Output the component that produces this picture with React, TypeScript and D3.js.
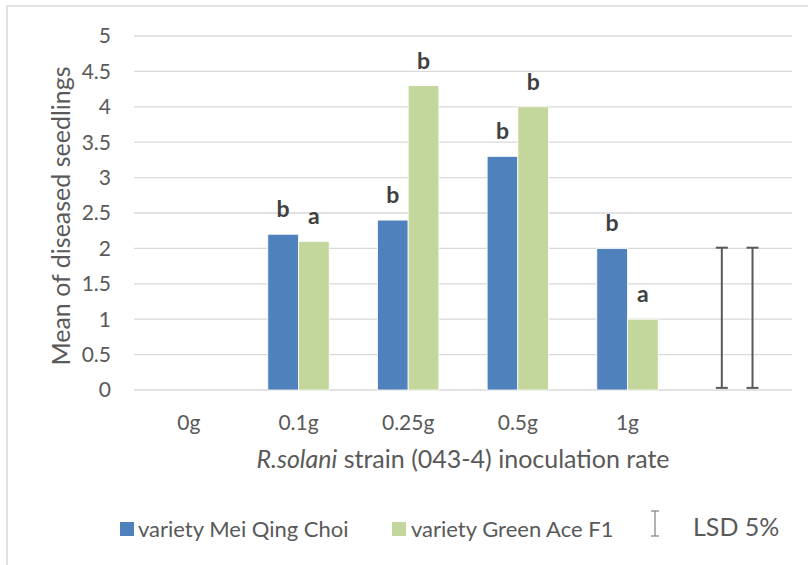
import React from "react";
import * as d3 from "d3";

const categories = ["0g", "0.1g", "0.25g", "0.5g", "1g", ""];
const seriesNames = ["variety Mei Qing Choi", "variety Green Ace F1"];
const meiQingChoi = [0, 2.2, 2.4, 3.3, 2.0, null];
const greenAce = [0, 2.1, 4.3, 4.0, 1.0, null];
const meiLetters = ["", "b", "b", "b", "b", ""];
const greenLetters = ["", "a", "b", "b", "a", ""];
const lsdLow = [0.03, 0.03];
const lsdHigh = [2.01, 2.01];
const yTicks = [0, 0.5, 1, 1.5, 2, 2.5, 3, 3.5, 4, 4.5, 5];
const colors = ["#4f81bd", "#c3d69b"];

const W = 808;
const H = 565;
const FONT = "Lato, 'Open Sans', sans-serif";

export default function App() {
  const left = 134, right = 792, top = 36, bottom = 390;
  const x = d3.scaleBand<string>().domain(categories.map((c, i) => String(i))).range([left, right]).paddingInner(0).paddingOuter(0);
  const y = d3.scaleLinear().domain([0, 5]).range([bottom, top]);
  const bw = 30.7;
  const series = [meiQingChoi, greenAce];
  const letters = [meiLetters, greenLetters];
  const barX = (i: number, s: number) => (x(String(i)) as number) + x.bandwidth() / 2 - bw + s * bw;

  return (
    <svg width={W} height={H} style={{ position: "absolute", left: 0, top: 0 }} fontFamily={FONT}>
      <rect x={0} y={0} width={W} height={H} fill="#fff" />
      <rect x={7} y={6} width={W + 10} height={H + 10} fill="none" stroke="#d9d9d9" strokeWidth={1.5} />
      {yTicks.map((t) => (
        <g key={t}>
          <line x1={left} x2={right} y1={y(t)} y2={y(t)} stroke="#d9d9d9" strokeWidth={1.3} />
          <text x={111} y={y(t)} dy="0.35em" textAnchor="end" fontSize={21} fill="#595959">{t}</text>
        </g>
      ))}
      {series.map((vals, s) =>
        vals.map((v, i) =>
          v == null || v === 0 ? null : (
            <rect key={`${s}-${i}`} x={barX(i, s)} y={y(v)} width={bw} height={y(0) - y(v)} fill={colors[s]} stroke="#fff" strokeWidth={0.8} />
          )
        )
      )}
      {series.map((vals, s) =>
        vals.map((v, i) =>
          v == null || !letters[s][i] ? null : (
            <text key={`l${s}-${i}`} x={barX(i, s) + bw / 2} y={y(v) - 17} textAnchor="middle" fontSize={23} fontWeight="bold" fill="#404040">{letters[s][i]}</text>
          )
        )
      )}
      {lsdLow.map((lo, s) => {
        const cx = barX(5, s) + bw / 2;
        return (
          <g key={`e${s}`} stroke="#595959" strokeWidth={2}>
            <line x1={cx} x2={cx} y1={y(lo)} y2={y(lsdHigh[s])} />
            <line x1={cx - 6} x2={cx + 6} y1={y(lo)} y2={y(lo)} />
            <line x1={cx - 6} x2={cx + 6} y1={y(lsdHigh[s])} y2={y(lsdHigh[s])} />
          </g>
        );
      })}
      {categories.map((c, i) => (
        <text key={`c${i}`} x={(x(String(i)) as number) + x.bandwidth() / 2} y={430} textAnchor="middle" fontSize={21} fill="#595959">{c}</text>
      ))}
      <text x={(left + right) / 2} y={468} textAnchor="middle" fontSize={25} fill="#595959">
        <tspan fontStyle="italic">R.solani</tspan> strain (043-4) inoculation rate
      </text>
      <text transform={`translate(70,216) rotate(-90)`} textAnchor="middle" fontSize={25} fill="#595959">Mean of diseased seedlings</text>
      <rect x={120} y={522} width={14} height={14} fill={colors[0]} />
      <text x={138} y={537} fontSize={22} fill="#595959">{seriesNames[0]}</text>
      <rect x={392} y={522} width={14} height={14} fill={colors[1]} />
      <text x={411} y={537} fontSize={22} fill="#595959">{seriesNames[1]}</text>
      <g stroke="#808080" strokeWidth={1.2}>
        <line x1={655} x2={655} y1={511} y2={536} />
        <line x1={651} x2={659} y1={511} y2={511} />
        <line x1={651} x2={659} y1={536} y2={536} />
      </g>
      <text x={693} y={536} fontSize={25} fill="#595959">LSD 5%</text>
    </svg>
  );
}
